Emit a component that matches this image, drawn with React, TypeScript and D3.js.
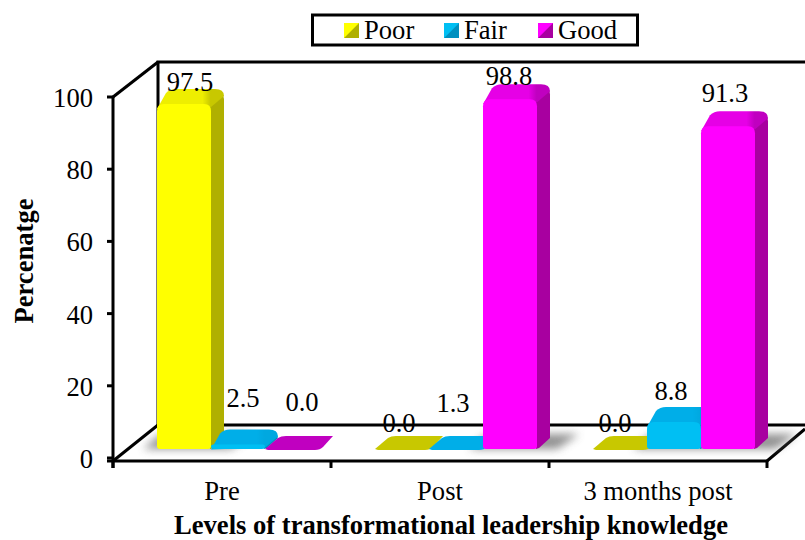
import React from "react";
import * as d3 from "d3";

const categories = ["Pre", "Post", "3 months post"];
const seriesNames = ["Poor", "Fair", "Good"];
const poor = [97.5, 0.0, 0.0];
const fair = [2.5, 1.3, 8.8];
const good = [0.0, 98.8, 91.3];
const yTicks = [0, 20, 40, 60, 80, 100];
const mainColors = ["#ffff00", "#00bff3", "#ff00ff"];
const sideColors = ["#b0b000", "#0090c0", "#a800a0"];
const topColors = ["#c8c800", "#00a8e0", "#c000c0"];
const topLightColors = ["#eeee00", "#00aee8", "#e600e6"];
// hand-placed label nudges [dx, baseline] relative to each bar
const labelNudges = [
  [[6, 91], [5, 407], [10, 411]],
  [[-3, 432], [-3, 412], [-1, 85]],
  [[-5, 432], [-3, 400], [-3, 102]],
];

const FONT = "'Liberation Serif','Times New Roman',serif";
const FS = 26.6;
const DX = 13, DY = 15;
const depthX = 45;

const xBand = d3.scaleBand<string>().domain(categories).range([113, 767]);
const inner = d3.scaleBand<string>().domain(seriesNames).range([0, 162]);
const yAxis = d3.scaleLinear().domain([0, 100]).range([458, 97]);
const yBar = d3.scaleLinear().domain([0, 100]).range([453.5, 95]);
const BASE = 449;
const series = [poor, fair, good];

function Bar({ cat, si, v }: { cat: number; si: number; v: number }) {
  const x0 = xBand(categories[cat])! + 44 + inner(seriesNames[si])!;
  const w = inner.bandwidth();
  const x1 = x0 + w;
  const base = BASE;
  const top = yBar(v);
  const h = base - top;
  const key = `t${si}`;
  if (h < 1) {
    // flat bar on the floor
    const b = base + 1;
    const t = b - 14;
    const p = d3.path();
    p.moveTo(x0 + 3, b);
    p.lineTo(x1 - 4, b);
    p.quadraticCurveTo(x1 + 1, b, x1 + 4, b - 3);
    p.lineTo(x1 + DX + 1, t);
    p.lineTo(x0 + DX + 8, t);
    p.quadraticCurveTo(x0 + DX + 3, t, x0 + DX, t + 2);
    p.lineTo(x0, b - 1);
    p.closePath();
    return <path d={p.toString()} fill={v > 0 ? topLightColors[si] : topColors[si]} />;
  }
  const r = Math.min(7, h / 2);
  const front = d3.path();
  front.moveTo(x0, top + r);
  front.quadraticCurveTo(x0, top, x0 + r, top);
  front.lineTo(x1 - r, top);
  front.quadraticCurveTo(x1, top, x1, top + r);
  front.lineTo(x1, base - 3);
  front.quadraticCurveTo(x1, base, x1 - 3, base);
  front.lineTo(x0 + 3, base);
  front.quadraticCurveTo(x0, base, x0, base - 3);
  front.closePath();
  const side = d3.path();
  side.moveTo(x1 - 3, top + 1);
  side.lineTo(x1 + DX - 3, top - DY + 3);
  side.quadraticCurveTo(x1 + DX, top - DY + 6, x1 + DX, top - DY + 10);
  side.lineTo(x1 + DX, base - DY + 4);
  side.lineTo(x1 + 2, base - 1);
  side.lineTo(x1 - 1, base);
  side.closePath();
  const topFace = d3.path();
  topFace.moveTo(x0, top + 5);
  topFace.lineTo(x0 + DX - 4, top - DY + 4);
  topFace.quadraticCurveTo(x0 + DX, top - DY, x0 + DX + 6, top - DY);
  topFace.lineTo(x1 + DX - 9, top - DY);
  topFace.quadraticCurveTo(x1 + DX, top - DY, x1 + DX, top - DY + 7);
  topFace.lineTo(x1, top + 3);
  topFace.closePath();
  return (
    <g>
      <path d={side.toString()} fill={sideColors[si]} />
      <path d={topFace.toString()} fill={`url(#${key})`} />
      <path d={front.toString()} fill={mainColors[si]} />
    </g>
  );
}

export default function App() {
  const wallLeft = 113 + depthX;
  const floorFront = 461;
  const floorBack = 425;
  const ptext = { fontFamily: FONT, fill: "#000" } as const;
  const marks: { cat: number; si: number; v: number }[] = [];
  categories.forEach((_, c) => seriesNames.forEach((_, s) => marks.push({ cat: c, si: s, v: series[s][c] })));
  return (
    <svg width={805} height={540} style={{ position: "absolute", left: 0, top: 0, background: "#fff" }}>
      <defs>
        {topColors.map((c, i) => (
          <linearGradient key={i} id={`t${i}`} x1="0" x2="1" y1="0" y2="0">
            <stop offset="0" stopColor={topLightColors[i]} />
            <stop offset="0.68" stopColor={topLightColors[i]} />
            <stop offset="0.8" stopColor={c} />
          </linearGradient>
        ))}
        <filter id="blur" x="-30%" y="-80%" width="160%" height="260%">
          <feGaussianBlur stdDeviation="4" />
        </filter>
        <filter id="soft" x="-5%" y="-5%" width="110%" height="110%">
          <feGaussianBlur stdDeviation="0.6" />
        </filter>
      </defs>

      {/* walls and floor */}
      <g stroke="#000" strokeWidth={3} fill="none">
        <path d={`M${wallLeft},${floorBack}V62H805`} />
        <path d={`M${wallLeft},${floorBack}H805`} />
        <line x1={113} y1={yAxis(100)} x2={wallLeft} y2={62} />
        <line x1={113} y1={floorFront} x2={wallLeft} y2={floorBack} />
        <line x1={767} y1={floorFront} x2={805} y2={429} />
      </g>

      {/* shadows on the floor */}
      <g filter="url(#blur)" fill="#777" opacity={0.8}>
        {marks.map((m, i) => {
          const x0 = xBand(categories[m.cat])! + 44 + inner(seriesNames[m.si])!;
          const hgt = BASE - yBar(m.v);
          if (hgt < 20) return null;
          return <path key={i} d={`M${x0 - 14},449 L${x0 + 4},434 H${x0 + 96} L${x0 + 74},449 Z`} />;
        })}
      </g>

      {/* bars */}
      <g filter="url(#soft)">
        {marks.map((m) => (
          <Bar key={`${m.cat}-${m.si}`} {...m} />
        ))}
      </g>

      {/* axes */}
      <g stroke="#000" strokeWidth={3} fill="none">
        <line x1={113} y1={yAxis(100) - 1} x2={113} y2={floorFront + 7} />
        <line x1={107} y1={floorFront} x2={767} y2={floorFront} />
        {yTicks.map((t) => (
          <line key={t} x1={107} x2={113} y1={t === 0 ? floorFront - 3 : yAxis(t)} y2={t === 0 ? floorFront - 3 : yAxis(t)} />
        ))}
        {[...categories.map((c) => xBand(c)!), 767].map((x) => (
          <line key={x} x1={x} x2={x} y1={floorFront} y2={floorFront + 7} />
        ))}
      </g>

      {/* y tick labels */}
      {yTicks.map((t) => (
        <text key={t} x={93} y={yAxis(t) + 10} textAnchor="end" fontSize={FS} {...ptext}>
          {t}
        </text>
      ))}

      {/* data labels */}
      {marks.map((m) => {
        const x0 = xBand(categories[m.cat])! + 44 + inner(seriesNames[m.si])! + inner.bandwidth() / 2;
        const [dx, y] = labelNudges[m.cat][m.si];
        return (
          <text key={`${m.cat}${m.si}`} x={x0 + dx} y={y} textAnchor="middle" fontSize={FS} {...ptext}>
            {m.v.toFixed(1)}
          </text>
        );
      })}

      {/* category labels */}
      {categories.map((c) => (
        <text key={c} x={xBand(c)! + xBand.bandwidth() / 2} y={500} textAnchor="middle" fontSize={FS} {...ptext}>
          {c}
        </text>
      ))}

      {/* axis titles */}
      <text x={451} y={533.5} textAnchor="middle" fontSize={FS} fontWeight={700} {...ptext}>
        Levels of transformational leadership knowledge
      </text>
      <text transform="translate(33,261) rotate(-90)" textAnchor="middle" fontSize={FS} fontWeight={700} {...ptext}>
        Percenatge
      </text>

      {/* legend */}
      <rect x={312.5} y={15} width={325} height={30} fill="#fff" stroke="#000" strokeWidth={3} />
      {seriesNames.map((s, i) => {
        const lx = [344, 444, 538][i];
        return (
          <g key={s}>
            <rect x={lx} y={23} width={15} height={15} fill={topColors[i]} />
            <path d={`M${lx},38 L${lx + 15},23 V38 Z`} fill={sideColors[i]} />
            <path d={`M${lx},38 L${lx + 15},23 H${lx} Z`} fill={mainColors[i]} />
            <text x={lx + 20} y={39} fontSize={FS} {...ptext}>
              {s}
            </text>
          </g>
        );
      })}
    </svg>
  );
}
